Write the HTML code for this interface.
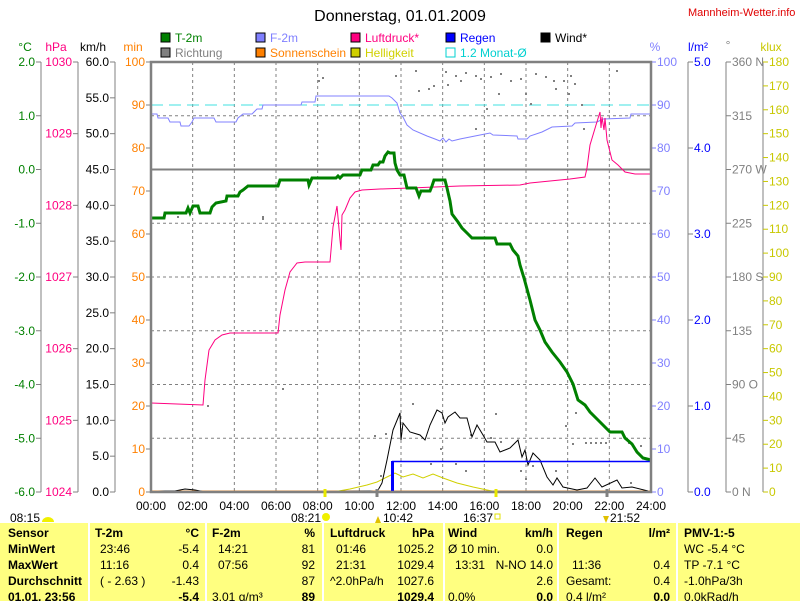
<!DOCTYPE html>
<html><head><meta charset="utf-8"><style>
html,body{margin:0;padding:0;background:#fff;}
body{width:800px;height:601px;overflow:hidden;position:relative;font-family:"Liberation Sans",sans-serif;}
svg{position:absolute;left:0;top:0;}
.tbl{position:absolute;left:0;top:523px;width:800px;height:78px;background:#ffff80;overflow:hidden;font-size:12px;}
.col{position:absolute;top:0;height:78px;border-left:2px solid #fff;}
.r{position:absolute;white-space:nowrap;}
.b{font-weight:bold;}
</style></head><body>
<svg id="s" width="800" height="523" xmlns="http://www.w3.org/2000/svg" font-family="Liberation Sans, sans-serif" font-size="12"></svg>
<div class="tbl" id="t"></div>
<script>
(function(){
var s='';
function T(x,y,t,c,a,sz){s+='<text x="'+x+'" y="'+y+'" fill="'+c+'" text-anchor="'+(a||'start')+'"'+(sz?' font-size="'+sz+'"':'')+'>'+t+'</text>';}
function L(x1,y1,x2,y2,c,w,d){s+='<line x1="'+x1+'" y1="'+y1+'" x2="'+x2+'" y2="'+y2+'" stroke="'+c+'" stroke-width="'+(w||1)+'"'+(d?' stroke-dasharray="'+d+'"':'')+'/>';}
function P(pts,c,w){s+='<polyline fill="none" stroke="'+c+'" stroke-width="'+w+'" points="'+pts+'"/>';}
var TOP=62,bot=492,X0=151,X1=651;
T(400,21,'Donnerstag, 01.01.2009','#000','middle',16);
T(688,16,'Mannheim-Wetter.info','#e00000','start',11);
var lg=[[161,'#008000','T-2m','#008000'],[256,'#8080ff','F-2m','#8080ff'],[351,'#ff0080','Luftdruck*','#ff0080'],[446,'#0000ff','Regen','#0000ff'],[541,'#000','Wind*','#000'],
[161,'#808080','Richtung','#808080'],[256,'#ff8000','Sonnenschein','#ff8000'],[351,'#d0d000','Helligkeit','#d0d000'],[446,'none','1.2 Monat-Ø','#00d0d0']];
lg.forEach(function(g,i){var y=i<5?33:48;s+='<rect x="'+g[0]+'" y="'+y+'" width="9" height="9" fill="'+g[1]+'" stroke="'+(g[1]=='none'?'#00d0d0':'#000')+'" stroke-width="1"/>';T(g[0]+14,y+9,g[2],g[3]);});
T(25,51,'°C','#008000','middle');T(56,51,'hPa','#ff0080','middle');T(93,51,'km/h','#000','middle');T(133,51,'min','#ff8000','middle');
T(655,51,'%','#8080ff','middle');T(698,51,'l/m²','#0000ff','middle');T(728,49,'°','#808080','middle');T(771,51,'klux','#c8c800','middle');
for(var k=1;k<12;k++){var x=X0+k*500/12;L(x,TOP,x,bot,'#808080',1,'3,3');}
for(var k=1;k<8;k++){var y=TOP+k*53.75;if(k!=2)L(X0,y,X1,y,'#808080',1,'3,3');}
L(X0,TOP+2*53.75,X1,TOP+2*53.75,'#808080',2);
L(X0,105,X1,105,'#40e0e0',1,'12,6');
L(41,TOP,41,bot,'#808080');L(78,TOP,78,bot,'#808080');L(115,TOP,115,bot,'#808080');
for(var k=0;k<=8;k++){var y=TOP+k*53.75;L(36,y,41,y,'#808080');T(35,y+4,(2-k).toFixed(1),'#008000','end');}
for(var k=0;k<=6;k++){var y=TOP+k*430/6;L(73,y,78,y,'#808080');T(72,y+4,1030-k,'#ff0080','end');}
for(var k=0;k<=12;k++){var y=TOP+k*430/12;L(110,y,115,y,'#808080');T(109,y+4,(60-5*k).toFixed(1),'#000','end');}
for(var k=0;k<=10;k++){var y=TOP+k*43;L(146,y,151,y,'#808080');T(145,y+4,100-10*k,'#ff8000','end');}
L(688,TOP,688,bot,'#808080');L(726,TOP,726,bot,'#808080');L(763,TOP,763,bot,'#808080');
for(var k=0;k<=10;k++){var y=TOP+k*43;L(651,y,656,y,'#8080ff');T(657,y+4,100-10*k,'#8080ff');}
for(var k=0;k<=5;k++){var y=TOP+k*86;L(688,y,693,y,'#808080');T(694,y+4,(5-k).toFixed(1),'#0000ff');}
var dl=['360 N','315','270 W','225','180 S','135','90  O','45','0   N'];
for(var k=0;k<=8;k++){var y=TOP+k*53.75;L(726,y,731,y,'#808080');T(732,y+4,dl[k],'#808080');}
for(var k=0;k<=18;k++){var y=TOP+k*430/18;L(763,y,768,y,'#c8c800');T(769,y+4,180-10*k,'#c8c800');}
var dots=[[395,75],[415,70],[418,90],[445,71],[455,75],[447,84],[465,72],[460,80],[475,75],[480,78],[428,88],[433,85],[475,128],[486,108],[490,76],[500,73],[510,80],[520,78],[525,93],[535,73],[545,76],[553,80],[555,88],[563,80],[570,75],[574,83],[568,93],[581,104],[583,128],[498,93],[530,103],[616,70],[322,77],[318,80],[262,216],[262,218],[177,216],[207,405],[412,403],[470,434],[490,437],[495,413],[500,441],[520,470],[525,478],[532,465],[555,470],[565,425],[575,412],[572,443],[585,442],[590,442],[595,442],[600,442],[605,442],[628,442],[640,445],[630,482],[440,448],[430,463],[455,463],[465,470],[380,475],[374,435],[385,433],[282,388]];
dots.forEach(function(d){s+='<rect x="'+d[0]+'" y="'+d[1]+'" width="2" height="2" fill="#808080"/>';});
P('151,114 157,114 158,118 168,118 170,122 180,122 181,126 189,126 192,122 194,118 214,118 216,122 236,122 238,118 243,114 252,114 257,109 262,109 263,105 301,105 302,102 315,102 316,96 389,96 392,98 397,103 400,113 403,117 407,125 413,130 427,136 435,139 440,141 443,138 446,142 449,139 452,141 460,139 475,136 490,133 493,135 517,136 518,139 527,139 530,136 542,132 552,127 572,126 575,123 597,122 603,119 630,118 631,114 650,114','#8080ff',1);
P('151,403 203,405 205,380 209,350 215,340 222,335 230,333 278,333 280,315 285,290 290,272 297,263 305,262 330,262 333,227 337,206 340,240 341,250 342,215 345,210 350,198 355,192 362,190 380,189 410,188 460,186 520,185 530,183 570,179 585,177 587,168 590,145 596,125 600,112 601,128 602,117 604,130 605,118 607,140 612,160 618,165 625,172 635,174 651,174','#ff0080',1);
P('151,218 164,218 165,213 186,213 188,208 190,213 193,206 198,206 200,213 210,213 212,207 216,203 226,201 227,196 238,196 240,192 243,190 248,186 278,186 280,180 308,180 309,185 312,178 336,178 338,176 340,178 343,175 360,175 362,170 371,170 373,165 378,165 380,162 383,162 385,156 388,152 390,153 394,153 395,163 397,170 400,175 404,175 407,188 416,188 419,196 421,191 430,191 432,186 434,180 445,180 447,188 450,201 452,214 458,222 462,228 468,234 472,238 495,238 497,244 510,244 513,250 518,256 520,265 524,278 530,300 535,320 540,330 545,342 552,352 560,362 567,372 573,384 578,400 585,405 590,412 598,420 610,432 622,432 625,438 632,444 637,452 643,458 651,460','#008000',3);
L(X0,491,X1,491,'#ff8000',1);
P('151,492 333,492 350,489 367,485 377,482 387,477 395,473 403,477 413,474 423,478 433,474 443,478 457,483 473,487 487,490 497,492','#d0d000',1);
P('151,492 165,491 175,491 185,489 195,490 205,492 300,492 370,491 377,492 382,483 387,460 393,430 400,413 401,440 403,423 410,432 420,435 425,440 430,425 437,410 442,413 445,423 448,417 455,412 460,418 467,418 472,437 477,425 483,435 487,442 495,442 500,452 510,448 518,440 522,457 525,450 528,465 533,453 540,460 547,477 553,485 557,478 563,487 577,490 587,488 595,478 602,487 617,480 622,488 632,487 648,491','#000',1);
s+='<rect x="391" y="461" width="3" height="31" fill="#0000ff"/>';L(392,461.5,651,461.5,'#0000ff',1.5);
s+='<rect x="151" y="62" width="500" height="430" fill="none" stroke="#808080" stroke-width="2.5"/>';
L(325,489,325,497,'#e8e800',3);L(496,489,496,497,'#e8e800',3);L(377,489,377,497,'#808080',3);L(607,489,607,497,'#808080',3);
for(var k=0;k<=12;k++){var x=X0+k*500/12;T(x,510,(k*2<10?'0':'')+(k*2)+':00','#000','middle');}
T(10,522,'08:15','#000');s+='<path d="M42 522 a6 5 0 0 1 12 0z" fill="#f0f000"/>';
T(291,522,'08:21','#000');s+='<circle cx="326" cy="517" r="4" fill="#f0f000"/>';
T(383,522,'10:42','#000');s+='<path d="M375 523 l3 -7 l3 7z" fill="#e0c000"/>';
T(463,522,'16:37','#000');s+='<rect x="495" y="514" width="5" height="5" fill="none" stroke="#e0e000"/>';
T(610,522,'21:52','#000');s+='<path d="M603 516 l3 7 l3 -7z" fill="#e0c000"/>';
document.getElementById('s').innerHTML=s;
var t='';
[88,205,322,443,557,676].forEach(function(x){t+='<div class="col" style="left:'+x+'px"></div>';});
function R(x,y,txt,b,right){t+='<div class="r'+(b?' b':'')+'" style="top:'+(y-12)+'px;'+(right?'right:'+(800-x)+'px':'left:'+x+'px')+'">'+txt+'</div>';}
var rows=[15,31,47,63,79];
R(8,rows[0],'Sensor',1);R(8,rows[1],'MinWert',1);R(8,rows[2],'MaxWert',1);R(8,rows[3],'Durchschnitt',1);R(8,rows[4],'01.01. 23:56',1);
R(95,rows[0],'T-2m',1);R(199,rows[0],'°C',1,1);R(100,rows[1],'23:46');R(199,rows[1],'-5.4',0,1);R(100,rows[2],'11:16');R(199,rows[2],'0.4',0,1);R(100,rows[3],'( - 2.63 )');R(199,rows[3],'-1.43',0,1);R(199,rows[4],'-5.4',1,1);
R(212,rows[0],'F-2m',1);R(315,rows[0],'%',1,1);R(218,rows[1],'14:21');R(315,rows[1],'81',0,1);R(218,rows[2],'07:56');R(315,rows[2],'92',0,1);R(315,rows[3],'87',0,1);R(212,rows[4],'3.01 g/m³');R(315,rows[4],'89',1,1);
R(330,rows[0],'Luftdruck',1);R(434,rows[0],'hPa',1,1);R(336,rows[1],'01:46');R(434,rows[1],'1025.2',0,1);R(336,rows[2],'21:31');R(434,rows[2],'1029.4',0,1);R(330,rows[3],'^2.0hPa/h');R(434,rows[3],'1027.6',0,1);R(434,rows[4],'1029.4',1,1);
R(448,rows[0],'Wind',1);R(553,rows[0],'km/h',1,1);R(448,rows[1],'Ø 10 min.');R(553,rows[1],'0.0',0,1);R(455,rows[2],'13:31');R(553,rows[2],'N-NO 14.0',0,1);R(553,rows[3],'2.6',0,1);R(448,rows[4],'0.0%');R(553,rows[4],'0.0',1,1);
R(566,rows[0],'Regen',1);R(670,rows[0],'l/m²',1,1);R(572,rows[2],'11:36');R(670,rows[2],'0.4',0,1);R(566,rows[3],'Gesamt:');R(670,rows[3],'0.4',0,1);R(566,rows[4],'0.4 l/m²');R(670,rows[4],'0.0',1,1);
R(684,rows[0],'PMV-1:-5',1);R(684,rows[1],'WC -5.4 °C');R(684,rows[2],'TP -7.1 °C');R(684,rows[3],'-1.0hPa/3h');R(684,rows[4],'0.0kRad/h');
document.getElementById('t').innerHTML=t;
})();
</script>
</body></html>
